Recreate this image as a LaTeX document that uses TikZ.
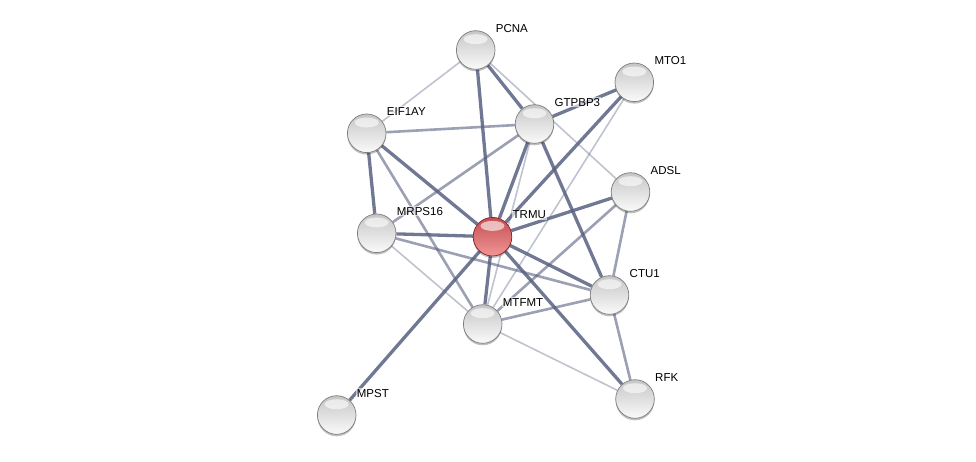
\documentclass[tikz,border=0pt]{standalone}
\usepackage{fontspec}
\setmainfont{Liberation Sans}
\usetikzlibrary{calc,shadows}
\pgfdeclarelayer{bg}
\pgfsetlayers{bg,main}
\definecolor{edgec}{RGB}{88,96,128}
\definecolor{nodeedge}{RGB}{125,125,125}
\definecolor{redtop}{RGB}{196,78,82}
\definecolor{redbot}{RGB}{240,150,150}
\definecolor{redrim}{RGB}{140,30,35}
\tikzset{
  prot/.style={circle, minimum size=38.6pt, inner sep=0pt,
    top color=gray!45, bottom color=gray!4, draw=nodeedge, line width=0.7pt,
    drop shadow={shadow xshift=0pt, shadow yshift=-2pt, opacity=0.25, fill=black},
    path picture={\fill[white, opacity=0.6] ($(path picture bounding box.north)+(0,8.5)$) ellipse (12pt and 5pt);}},
  query/.style={prot, top color=redtop, bottom color=redbot, draw=redrim},
  lbl/.style={anchor=base west, inner sep=1pt, fill=white, fill opacity=0.6, text opacity=1,
    font=\fontsize{11.5}{13}\selectfont},
  strong/.style={draw=edgec, line width=3.3pt, opacity=0.85},
  medium/.style={draw=edgec, line width=2.6pt, opacity=0.6},
  weak/.style={draw=edgec, line width=1.6pt, opacity=0.38},
}
\begin{document}
\begin{tikzpicture}[x=1pt,y=-1pt]
\useasboundingbox (0,0) rectangle (976,461);
% nodes
\node[prot] (PCNA) at (475.7,50) {};
\node[prot] (MTO1) at (634.3,82.3) {};
\node[prot] (GTPBP3) at (534.5,124) {};
\node[prot] (EIF1AY) at (366.7,133.3) {};
\node[prot] (ADSL) at (630.5,192) {};
\node[prot] (MRPS16) at (376.7,233.3) {};
\node[query] (TRMU) at (492.5,236.7) {};
\node[prot] (CTU1) at (609.5,295) {};
\node[prot] (MTFMT) at (482.7,324) {};
\node[prot] (RFK) at (635,399) {};
\node[prot] (MPST) at (336.7,415) {};
% edges
\begin{pgfonlayer}{bg}
\draw[strong] (PCNA) -- (GTPBP3);
\draw[strong] (PCNA) -- (TRMU);
\draw[strong] (GTPBP3) -- (MTO1);
\draw[strong] (GTPBP3) -- (TRMU);
\draw[strong] (MTO1) -- (TRMU);
\draw[strong] (EIF1AY) -- (TRMU);
\draw[strong] (EIF1AY) -- (MRPS16);
\draw[strong] (MRPS16) -- (TRMU);
\draw[strong] (TRMU) -- (ADSL);
\draw[strong] (TRMU) -- (CTU1);
\draw[strong] (TRMU) -- (RFK);
\draw[strong] (TRMU) -- (MPST);
\draw[strong] (TRMU) -- (MTFMT);
\draw[strong] (GTPBP3) -- (CTU1);
\draw[medium] (CTU1) -- (MTFMT);
\draw[medium] (EIF1AY) -- (GTPBP3);
\draw[medium] (GTPBP3) -- (MRPS16);
\draw[medium] (MRPS16) -- (CTU1);
\draw[medium] (ADSL) -- (CTU1);
\draw[medium] (ADSL) -- (MTFMT);
\draw[medium] (CTU1) -- (RFK);
\draw[medium] (EIF1AY) -- (MTFMT);
\draw[weak] (PCNA) -- (EIF1AY);
\draw[weak] (PCNA) -- (ADSL);
\draw[weak] (MRPS16) -- (MTFMT);
\draw[weak] (GTPBP3) -- (MTFMT);
\draw[weak] (MTO1) -- (MTFMT);
\draw[weak] (MTFMT) -- (RFK);
\end{pgfonlayer}
% labels
\node[lbl] (lPCNA) at ($(PCNA)+(19,-18)$) {PCNA};
\node[lbl] (lMTO1) at ($(MTO1)+(19,-18)$) {MTO1};
\node[lbl] (lGTPBP3) at ($(GTPBP3)+(19,-18)$) {GTPBP3};
\node[lbl] (lEIF1AY) at ($(EIF1AY)+(19,-18)$) {EIF1AY};
\node[lbl] (lADSL) at ($(ADSL)+(19,-18)$) {ADSL};
\node[lbl] (lMRPS16) at ($(MRPS16)+(19,-18)$) {MRPS16};
\node[lbl] (lTRMU) at ($(TRMU)+(19,-18)$) {TRMU};
\node[lbl] (lCTU1) at ($(CTU1)+(19,-18)$) {CTU1};
\node[lbl] (lMTFMT) at ($(MTFMT)+(19,-18)$) {MTFMT};
\node[lbl] (lRFK) at ($(RFK)+(19,-18)$) {RFK};
\node[lbl] (lMPST) at ($(MPST)+(19,-18)$) {MPST};
\end{tikzpicture}
\end{document}
